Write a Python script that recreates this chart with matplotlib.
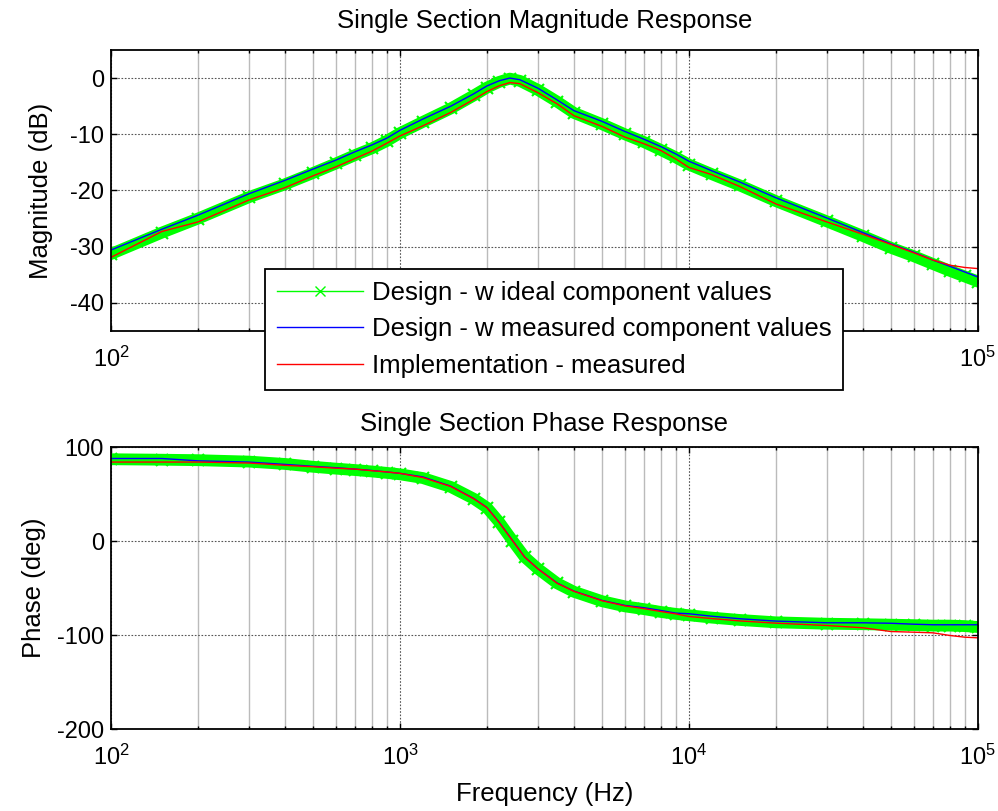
import matplotlib
matplotlib.use("Agg")
import matplotlib.pyplot as plt
from matplotlib.lines import Line2D
from matplotlib.ticker import LogLocator, NullFormatter

plt.rcParams["font.family"] = ["Liberation Sans", "DejaVu Sans"]
plt.rcParams["mathtext.fontset"] = "custom"
plt.rcParams["mathtext.rm"] = "Liberation Sans"
plt.rcParams["mathtext.it"] = "Liberation Sans:italic"
plt.rcParams["mathtext.bf"] = "Liberation Sans:bold"
plt.rcParams["axes.unicode_minus"] = False

# --- values ---

mag_freq = [100, 150, 200, 300, 400, 500, 600, 700, 800, 900, 1000, 1200, 1500,
            1800, 2000, 2200, 2400, 2600, 3000, 3500, 4000, 5000, 6000, 7000,
            8000, 9000, 10000, 12000, 15000, 20000, 30000, 40000, 50000, 60000,
            70000, 80000, 90000, 100000]
mag_ideal = [-31.3, -27.5, -25.0, -21.2, -18.9, -16.9, -15.2, -13.7, -12.5, -11.2,
             -9.8, -7.8, -5.4, -3.1, -1.7, -0.7, -0.1, -0.5, -2.1, -4.2, -6.2,
             -8.2, -10.0, -11.4, -12.8, -14.1, -15.4, -17.1, -19.1, -21.9, -25.5,
             -28.1, -30.2, -31.7, -33.1, -34.3, -35.3, -36.2]
mag_design = [-30.6, -26.9, -24.4, -20.6, -18.2, -16.2, -14.6, -13.1, -11.9, -10.7,
              -9.3, -7.3, -5.0, -2.8, -1.4, -0.5, 0.0, -0.3, -1.8, -3.9, -5.8,
              -7.7, -9.5, -10.9, -12.2, -13.5, -14.8, -16.5, -18.5, -21.3, -24.9,
              -27.5, -29.5, -31.0, -32.4, -33.5, -34.5, -35.4]
mag_impl = [-31.9, -27.3, -25.6, -21.7, -19.5, -17.4, -15.8, -14.3, -13.0, -11.6,
            -10.3, -8.5, -6.1, -3.8, -2.4, -1.4, -0.8, -1.0, -2.6, -4.6, -6.7,
            -8.6, -10.5, -11.7, -12.9, -14.4, -15.9, -17.2, -19.3, -22.4, -25.6,
            -27.8, -29.6, -31.1, -32.4, -33.3, -33.7, -33.9]

phase_freq = [100, 150, 200, 300, 400, 500, 600, 700, 800, 900, 1000, 1200, 1500,
              1800, 2000, 2200, 2450, 2700, 3000, 3500, 4000, 5000, 6000, 7000,
              8000, 9000, 10000, 12000, 15000, 20000, 30000, 40000, 50000, 60000,
              70000, 80000, 90000, 100000]
phase_ideal = [87.0, 86.5, 86.0, 84.5, 82.0, 79.0, 77.0, 75.5, 74.0, 72.5, 71.0,
               67.0, 57.5, 45.0, 35.5, 20.5, 0.5, -17.0, -29.5, -45.0, -54.0,
               -64.0, -69.5, -72.5, -75.5, -77.5, -79.0, -81.5, -84.0, -86.5,
               -88.0, -88.5, -89.0, -89.5, -90.0, -90.0, -90.5, -91.5]
phase_design = [87.8, 87.8, 85.3, 84.0, 81.5, 79.5, 78.0, 76.5, 75.0, 73.5, 72.0,
                68.2, 58.3, 45.2, 35.6, 20.3, 0.7, -17.0, -29.5, -44.7, -53.3,
                -63.2, -68.5, -71.0, -73.9, -76.7, -77.4, -80.0, -82.7, -85.2,
                -87.0, -87.0, -87.5, -88.5, -89.1, -89.1, -89.1, -89.1]
phase_impl = [84.0, 84.0, 84.0, 83.0, 80.5, 79.0, 77.5, 76.5, 74.8, 73.5, 72.0,
              67.5, 58.0, 45.0, 35.5, 20.0, 0.5, -17.0, -29.5, -45.0, -53.5,
              -63.5, -69.0, -72.0, -75.0, -77.5, -80.3, -82.5, -85.0, -87.4,
              -89.9, -92.3, -96.3, -97.0, -97.7, -100.5, -102.3, -103.0]

series_labels = ["Design - w ideal component values",
                 "Design - w measured component values",
                 "Implementation - measured"]

GREEN, BLUE, RED = "#00ff00", "#0000ff", "#ff0000"
TICK_FS = 17
LABEL_FS = 18.5
TITLE_FS = 18.5
LEGEND_FS = 18.5


def style_axes(ax, ylim, yticks):
    ax.set_xscale("log")
    ax.set_xlim(1e2, 1e5)
    ax.set_ylim(*ylim)
    ax.set_yticks(yticks)
    ax.xaxis.set_major_locator(LogLocator(base=10, numticks=10))
    ax.xaxis.set_minor_locator(LogLocator(base=10, subs=range(2, 10), numticks=10))
    ax.xaxis.set_minor_formatter(NullFormatter())
    ax.tick_params(which="both", direction="in", top=True, right=True,
                   labelsize=TICK_FS, width=1.0)
    ax.tick_params(which="major", length=4)
    ax.tick_params(which="minor", length=2.5)
    ax.tick_params(axis="x", which="major", pad=11)
    ax.tick_params(axis="y", which="major", pad=5)
    ax.grid(True, which="major", axis="both", color="#555555",
            linestyle=(0, (1.5, 1.5)), linewidth=0.8)
    ax.grid(True, which="minor", axis="x", color="#bbbbbb", linewidth=1.0)
    ax.set_axisbelow(True)
    for s in ax.spines.values():
        s.set_linewidth(1.3)


def draw_series(ax, freq, ideal, design, impl):
    # ideal design is a dense sweep of x markers in the original -> thick band
    ax.plot(freq, ideal, color=GREEN, lw=8.5, solid_joinstyle="round")
    ax.plot(freq, ideal, "x", color=GREEN, ms=8, mew=1.5)
    ax.plot(freq, design, color=BLUE, lw=1.0)
    ax.plot(freq, impl, color=RED, lw=1.0)


fig = plt.figure(figsize=(9.98, 8.11), dpi=100)
ax1 = fig.add_axes([0.1112, 0.5919, 0.8687, 0.3465])
ax2 = fig.add_axes([0.1112, 0.1011, 0.8687, 0.3477])

draw_series(ax1, mag_freq, mag_ideal, mag_design, mag_impl)
style_axes(ax1, (-45, 5), [-40, -30, -20, -10, 0])
ax1.set_ylabel("Magnitude (dB)", fontsize=LABEL_FS, labelpad=12)
ax1.set_title("Single Section Magnitude Response", fontsize=TITLE_FS, pad=15.5)

draw_series(ax2, phase_freq, phase_ideal, phase_design, phase_impl)
style_axes(ax2, (-200, 100), [-200, -100, 0, 100])
ax2.set_ylabel("Phase (deg)", fontsize=LABEL_FS, labelpad=8)
ax2.set_xlabel("Frequency (Hz)", fontsize=LABEL_FS, labelpad=9)
ax2.set_title("Single Section Phase Response", fontsize=TITLE_FS, pad=11.5)

# the legend hides the 10^3 and 10^4 labels of the upper plot
fig.canvas.draw()
for lbl in ax1.get_xticklabels():
    if lbl.get_position()[0] in (1e3, 1e4):
        lbl.set_visible(False)

handles = [Line2D([], [], color=GREEN, lw=1, marker="x", ms=7, mew=1),
           Line2D([], [], color=BLUE, lw=1),
           Line2D([], [], color=RED, lw=1)]
leg = fig.legend(handles, series_labels, loc="upper left",
                 bbox_to_anchor=(265 / 998, 1 - 269 / 811, 578 / 998, 0),
                 mode="expand", borderaxespad=0, fontsize=LEGEND_FS, numpoints=1,
                 handlelength=3.35, handletextpad=0.35, borderpad=0.45,
                 labelspacing=0.5, fancybox=False, framealpha=1,
                 edgecolor="black")
leg.get_frame().set_linewidth(1.3)

fig.savefig("out.png", dpi=100)
